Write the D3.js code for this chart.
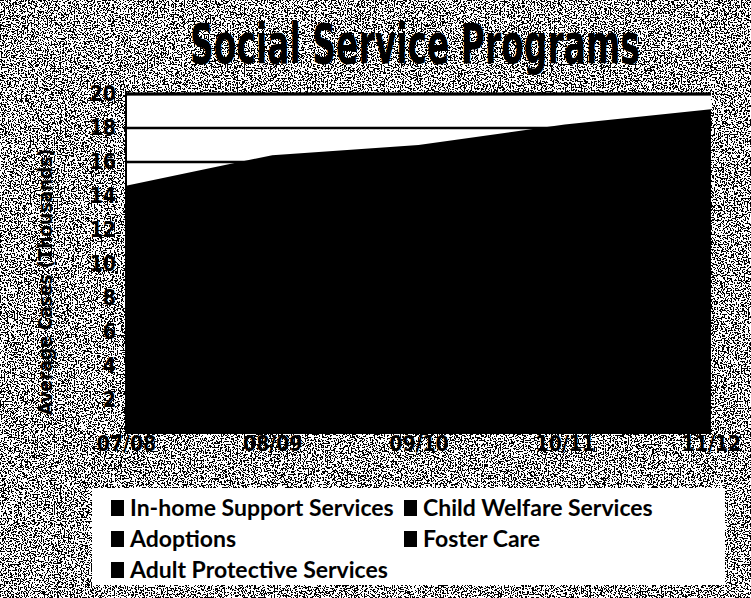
<!DOCTYPE html>
<html>
<head>
<meta charset="utf-8">
<script src="https://cdn.jsdelivr.net/npm/d3@7"></script>
<style>
  html, body { margin: 0; padding: 0; background: #808080; }
  svg { display: block; }
</style>
</head>
<body>
<script>
// ---- data ----
const categories = ["07/08", "08/09", "09/10", "10/11", "11/12"];
// Stacked total of all five programs (thousands of average cases);
// the five layers are all drawn in black, so only the total is visible.
const totalCases = [14.6, 16.4, 17.0, 18.2, 19.1];
const yTicks = [2, 4, 6, 8, 10, 12, 14, 16, 18, 20];
const seriesNames = [
  "In-home Support Services", "Child Welfare Services",
  "Adoptions", "Foster Care",
  "Adult Protective Services"
];

const W = 751, H = 598;
const svg = d3.select("body").append("svg").attr("width", W).attr("height", H);

// noisy scanned background
const defs = svg.append("defs");
const f = defs.append("filter").attr("id", "noise")
  .attr("x", 0).attr("y", 0).attr("width", "100%").attr("height", "100%");
f.append("feTurbulence").attr("type", "fractalNoise")
  .attr("baseFrequency", "0.7").attr("numOctaves", 2).attr("seed", 3).attr("result", "t");
f.append("feColorMatrix").attr("type", "matrix")
  .attr("values", "0.33 0.33 0.33 0 0  0.33 0.33 0.33 0 0  0.33 0.33 0.33 0 0  0 0 0 0 1")
  .attr("result", "g");
const ct = f.append("feComponentTransfer").attr("in", "g");
const table = d3.range(40).map(i => (i < 19 ? 0 : 1)).join(" ");
["feFuncR", "feFuncG", "feFuncB"].forEach(n =>
  ct.append(n).attr("type", "discrete").attr("tableValues", table));
svg.append("rect").attr("width", W).attr("height", H).attr("filter", "url(#noise)");

// plot geometry
const plot = { left: 126, right: 711, top: 94, bottom: 434 };
const x = d3.scalePoint().domain(categories).range([plot.left, plot.right]);
const y = d3.scaleLinear().domain([0, 20]).range([plot.bottom, plot.top]);

// plot background
svg.append("rect")
  .attr("x", plot.left).attr("y", y(20))
  .attr("width", plot.right - plot.left).attr("height", y(0) - y(20))
  .attr("fill", "#fff");

// gridlines
svg.append("g")
  .selectAll("line").data(yTicks).join("line")
  .attr("x1", plot.left).attr("x2", plot.right)
  .attr("y1", d => y(d)).attr("y2", d => y(d))
  .attr("stroke", "#000").attr("stroke-width", 2.5);

// area (stack of all programs, all black)
const area = d3.area()
  .x((d, i) => x(categories[i]))
  .y0(y(0))
  .y1(d => y(d));
svg.append("path").datum(totalCases).attr("d", area).attr("fill", "#000");

// top border and left edge
svg.append("line").attr("x1", plot.left).attr("x2", plot.right)
  .attr("y1", y(20)).attr("y2", y(20)).attr("stroke", "#000").attr("stroke-width", 3);
svg.append("line").attr("x1", plot.left).attr("x2", plot.left)
  .attr("y1", y(20)).attr("y2", y(0)).attr("stroke", "#000").attr("stroke-width", 2);

const condensed = "'Liberation Sans Narrow', 'DejaVu Sans Condensed', sans-serif";

// y axis labels
const yAxis = d3.axisLeft(y).tickValues(yTicks).tickSize(0).tickPadding(0);
const gy = svg.append("g").attr("transform", `translate(${plot.left - 10},0)`).call(yAxis);
gy.select(".domain").remove();
gy.selectAll("text")
  .attr("font-family", condensed)
  .attr("font-weight", "bold").attr("font-size", 21).attr("fill", "#000");

// x axis labels
const xAxis = d3.axisBottom(x).tickSize(0).tickPadding(0);
const gx = svg.append("g").attr("transform", `translate(0,${plot.bottom + 2})`).call(xAxis);
gx.select(".domain").remove();
gx.selectAll("text")
  .attr("font-family", condensed)
  .attr("font-weight", "bold").attr("font-size", 21).attr("fill", "#000");

// y axis title
svg.append("text")
  .attr("transform", `translate(52,${(plot.top + plot.bottom) / 2 + 18}) rotate(-90)`)
  .attr("text-anchor", "middle")
  .attr("font-family", condensed)
  .attr("font-weight", "bold").attr("font-size", 19).attr("fill", "#000")
  .text("Average Cases (Thousands)");

// title (horizontally compressed to match the narrow original face)
const title = svg.append("text")
  .attr("text-anchor", "middle")
  .attr("font-family", condensed)
  .attr("font-weight", "bold").attr("font-size", 56).attr("fill", "#000")
  .text("Social Service Programs");
const tw = title.node().getComputedTextLength();
const sx = Math.min(1, 450 / tw);
title.attr("transform", `translate(415,63) scale(${sx},1)`);

// legend
const lg = svg.append("g");
lg.append("rect").attr("x", 92).attr("y", 488).attr("width", 633).attr("height", 97).attr("fill", "#fff");
const legPos = [[111, 516], [404, 516], [111, 547], [404, 547], [111, 578]];
const items = lg.selectAll("g.item").data(seriesNames).join("g")
  .attr("class", "item")
  .attr("transform", (d, i) => `translate(${legPos[i][0]},${legPos[i][1]})`);
items.append("rect").attr("x", 0).attr("y", -16).attr("width", 13).attr("height", 16).attr("fill", "#000");
items.append("text").attr("x", 19).attr("y", 0)
  .attr("font-family", "Lato, 'Open Sans', sans-serif")
  .attr("font-weight", "bold").attr("font-size", 23).attr("fill", "#000")
  .text(d => d);
</script>
</body>
</html>
